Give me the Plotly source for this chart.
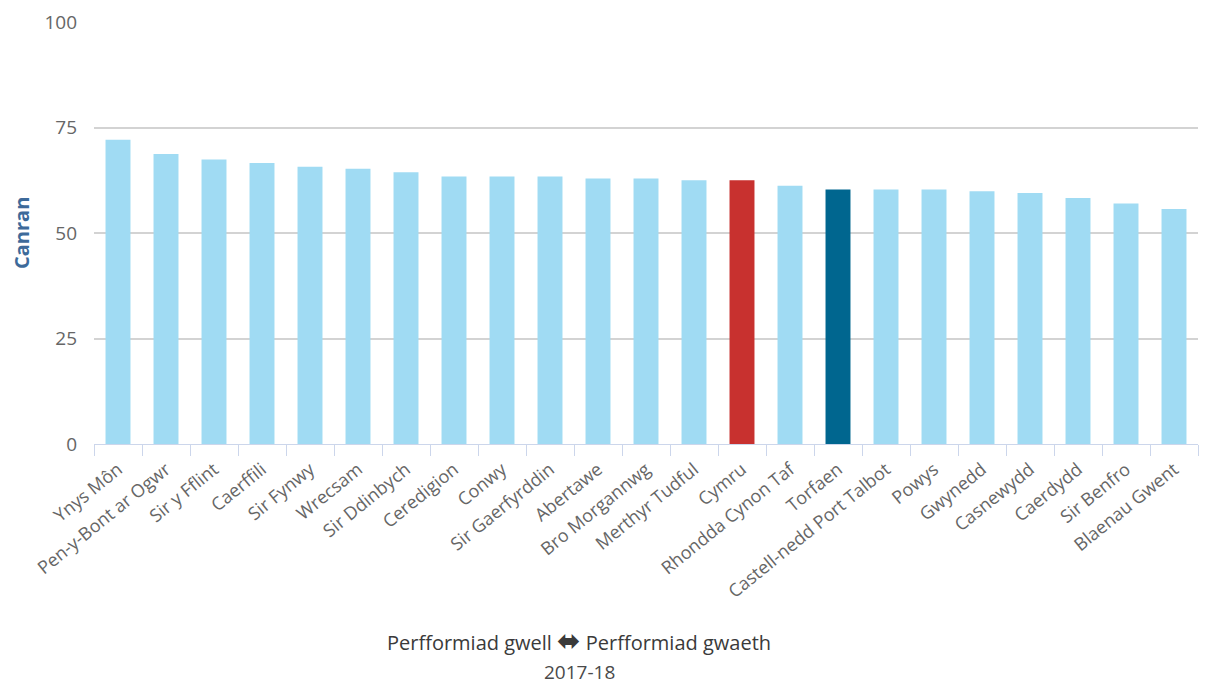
import plotly.graph_objects as go

categories = ["Ynys Môn", "Pen-y-Bont ar Ogwr", "Sir y Fflint", "Caerffili", "Sir Fynwy",
              "Wrecsam", "Sir Ddinbych", "Ceredigion", "Conwy", "Sir Gaerfyrddin",
              "Abertawe", "Bro Morgannwg", "Merthyr Tudful", "Cymru", "Rhondda Cynon Taf",
              "Torfaen", "Castell-nedd Port Talbot", "Powys", "Gwynedd", "Casnewydd",
              "Caerdydd", "Sir Benfro", "Blaenau Gwent"]
values = [72.1, 68.7, 67.4, 66.6, 65.7, 65.2, 64.4, 63.4, 63.4, 63.4,
          62.9, 62.9, 62.5, 62.5, 61.2, 60.3, 60.3, 60.3, 59.9, 59.5,
          58.3, 57.0, 55.7]
y_ticks = [0, 25, 50, 75, 100]

LIGHT = "#A0DBF3"
WALES = "#C8312F"
FOCUS = "#00668F"
colors = [WALES if c == "Cymru" else FOCUS if c == "Torfaen" else LIGHT for c in categories]

fig = go.Figure(go.Bar(x=categories, y=values, marker=dict(color=colors, line=dict(width=0)),
                       width=0.52, hoverinfo="x+y"))

FONT = "Open Sans"
W, H = 1200, 676          # page body adds an 8px margin
ML, MR, MT, MB = 86, 10, 14, 240
fig.update_layout(
    width=W, height=H,
    margin=dict(l=ML, r=MR, t=MT, b=MB, autoexpand=False),
    paper_bgcolor="white", plot_bgcolor="white",
    showlegend=False,
    font=dict(family=FONT, color="#666666", size=16),
    xaxis=dict(
        type="category", tickangle=-39, tickfont=dict(size=18, color="#666666"),
        showline=True, linecolor="#ccd6eb", linewidth=1,
        ticks="outside", tickson="boundaries", ticklen=11, tickcolor="#ccd6eb",
        ticklabelstandoff=7,
        showgrid=False, range=[-0.5, len(categories) - 0.5],
    ),
    yaxis=dict(
        range=[0, 100], tickvals=y_ticks, ticktext=[str(v) for v in y_ticks],
        tickfont=dict(size=19, color="#666666"),
        showgrid=True, gridcolor="#d3d3d3", gridwidth=1.5,
        zeroline=False, ticks="", ticklabelstandoff=16,
    ),
    annotations=[
        dict(text="<b>Canran</b>", x=13, y=225, textangle=-90,
             font=dict(size=20, color="#3d6a9a", family=FONT)),
        dict(text="Perfformiad gwell <span style='font-family:DejaVu Sans;font-size:28px'><b>⬌</b></span> Perfformiad gwaeth",
             x=571, y=632,
             font=dict(size=20, color="#3a3a3a", family=FONT)),
        dict(text="2017-18", x=571, y=664,
             font=dict(size=19, color="#4a4a4a", family=FONT)),
    ],
)
pw = W - ML - MR
ph = H - MT - MB
for a in fig.layout.annotations:
    px, py = a.x, a.y
    a.x = (px - ML) / pw
    a.y = (H - MB - py) / ph
    a.xref = "paper"
    a.yref = "paper"
    a.showarrow = False
    a.yanchor = "middle"
    a.xanchor = "center"

fig.write_html("out.html")
